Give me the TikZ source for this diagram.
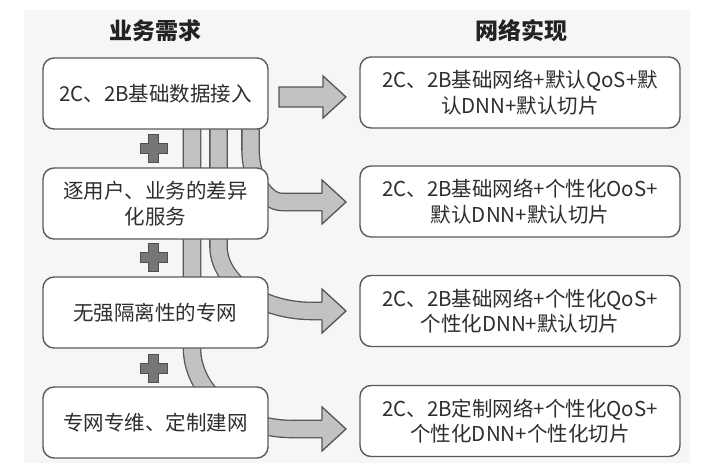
\documentclass[tikz,border=0pt]{standalone}
\usepackage{fontspec}
\usetikzlibrary{calc}
\setmainfont{Noto Sans CJK SC}
\definecolor{pagebg}{HTML}{F6F6F6}
\definecolor{boxedge}{HTML}{5A5A5A}
\definecolor{textcol}{HTML}{2E2E2E}
\definecolor{titlecol}{HTML}{222222}
\definecolor{bandfill}{HTML}{C2C2C2}
\definecolor{bandedge}{HTML}{555555}
\definecolor{plusfill}{HTML}{767676}
\definecolor{plusedge}{HTML}{4F4F4F}
\tikzset{
  box/.style={draw=boxedge, line width=1.4pt, rounded corners=11pt, fill=white,
    align=center, text=textcol, font=\fontsize{20.5}{25.5}\selectfont,
    inner sep=0pt, minimum height=71pt},
  lbox/.style={box, minimum width=225pt},
  rbox/.style={box, minimum width=320pt},
  band/.style={draw=bandedge, line width=1.3pt, double=bandfill, double distance=16pt},
  headedge/.style={draw=bandedge, line width=1.3pt, line join=miter},
  arrowshape/.style={fill=bandfill, draw=bandedge, line width=1.3pt, line join=miter},
  plusshape/.style={fill=plusfill, draw=plusedge, line width=1pt},
  coltitle/.style={font=\fontsize{23}{27}\selectfont\bfseries, text=titlecol},
  plusmark/.pic={\draw[plusshape] (-5,-14) -- (5,-14) -- (5,-5) -- (13.5,-5) -- (13.5,5)
      -- (5,5) -- (5,14) -- (-5,14) -- (-5,5) -- (-13.5,5) -- (-13.5,-5) -- (-5,-5) -- cycle;}
}
\begin{document}
\begin{tikzpicture}[x=1pt,y=-1pt]
  % canvas and panel
  \useasboundingbox (0,0) rectangle (716,472);
  \fill[white] (0,0) rectangle (716,472);
  \fill[pagebg] (24,10) rectangle (690,463);

  % column titles
  \node[coltitle] (tl) at (155.5,31) {业务需求};
  \node[coltitle] (tr) at (521,31) {网络实现};

  % named end points of the block arrows
  \coordinate (s1) at (279,97);
  \coordinate (h1) at (323,97);
  \coordinate (h2) at (322,202);
  \coordinate (h3) at (322,311);
  \coordinate (h4) at (322,429);

  % bands running down from the first requirement and turning right
  \draw[band] (192,110) -- (192,348) arc[start angle=180, end angle=90, x radius=100, y radius=81] -- (h4);
  \draw[band] (218.5,110) -- (218.5,246) arc[start angle=180, end angle=90, x radius=94, y radius=65] -- (h3);
  \draw[band] (250.5,110) -- (250.5,149) arc[start angle=180, end angle=90, x radius=32, y radius=53] -- (h2);

  % arrow heads at the band ends
  \foreach \h in {h2,h3,h4}{
    \fill[bandfill] ($(\h)+(0,-22)$) -- ($(\h)+(24,0)$) -- ($(\h)+(0,22)$) -- cycle;
    \draw[headedge] ($(\h)+(0,-8.65)$) -- ($(\h)+(0,-22)$) -- ($(\h)+(24,0)$)
      -- ($(\h)+(0,22)$) -- ($(\h)+(0,8.65)$);
  }

  % first, straight block arrow
  \draw[arrowshape] ($(s1)+(0,-10)$) -- ($(h1)+(0,-10)$) -- ($(h1)+(0,-21)$) -- ($(h1)+(23,0)$)
    -- ($(h1)+(0,21)$) -- ($(h1)+(0,10)$) -- ($(s1)+(0,10)$) -- cycle;

  % requirement boxes
  \node[lbox] (l1) at (155.5,93.5) {2C、2B基础数据接入};
  \node[lbox] (l2) at (155.5,203.5) {逐用户、业务的差异\\化服务};
  \node[lbox] (l3) at (155.5,312.5) {无强隔离性的专网};
  \node[lbox] (l4) at (155.5,422.5) {专网专维、定制建网};

  % network realisation boxes
  \node[rbox] (r1) at (520,92.5) {2C、2B基础网络+默认QoS+默\\认DNN+默认切片};
  \node[rbox] (r2) at (520,201.5) {2C、2B基础网络+个性化OoS+\\默认DNN+默认切片};
  \node[rbox] (r3) at (520,311) {2C、2B基础网络+个性化QoS+\\个性化DNN+默认切片};
  \node[rbox] (r4) at (520,421) {2C、2B定制网络+个性化QoS+\\个性化DNN+个性化切片};

  % plus signs between the requirements
  \pic (p1) at (153.5,148) {plusmark};
  \pic (p2) at (153.5,257.5) {plusmark};
  \pic (p3) at (153.5,368) {plusmark};
\end{tikzpicture}
\end{document}
